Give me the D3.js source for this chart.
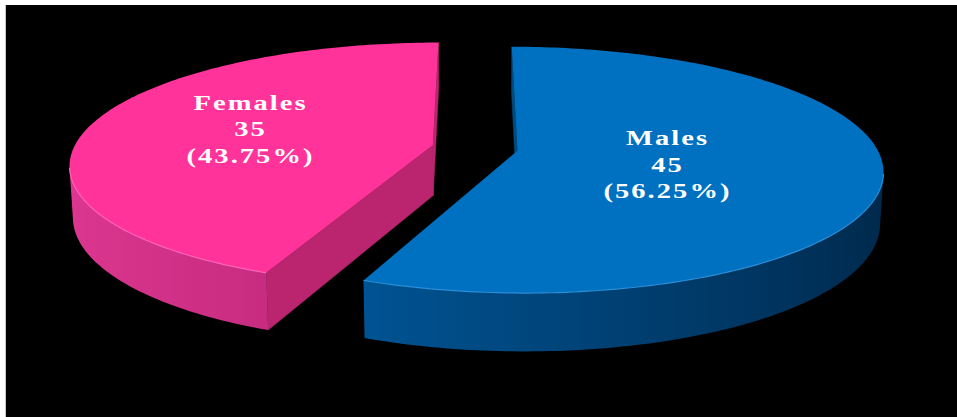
<!DOCTYPE html>
<html>
<head>
<meta charset="utf-8">
<script src="https://cdn.jsdelivr.net/npm/d3@7"></script>
<style>
  body { margin: 0; background: #fff; }
  svg { display: block; }
</style>
</head>
<body>
<svg width="957" height="417"></svg>
<script>
// chart data
const categories = ["Males", "Females"];
const values = [45, 35];
const topColors = ["#0070c0", "#ff3399"];
const wallDark = ["#00284a", "#96145a"];
const wallLight = ["#0066b3", "#de3791"];
const cutColors = ["#004a80", "#bb2570"];
const rimColors = ["#2a8fd8", "#ff64b8"];

function main() {
    var svg = d3.select("svg");
    var W = +svg.attr("width"), H = +svg.attr("height");
    var defs = svg.append("defs");

    // page frame
    svg.append("rect").attr("width", W).attr("height", H).attr("fill", "#fff");
    svg.append("rect").attr("x", 6).attr("y", 5)
        .attr("width", W - 6).attr("height", H - 5).attr("fill", "#000");
    svg.append("line").attr("x1", 5.5).attr("x2", 5.5).attr("y1", 5).attr("y2", H)
        .attr("stroke", "#c8c8c8").attr("stroke-width", 1);

    // simple perspective camera looking down on a unit disc
    const cam = { cx: 475, cy: 148, f: 2195, D: 6.11, phi: 19.4 * Math.PI / 180 };
    const sinP = Math.sin(cam.phi), cosP = Math.cos(cam.phi);
    const thick = 0.15;     // disc height
    const explode = 0.12;   // slice offset
    const camPos = [0, cam.D * sinP, -cam.D * cosP];

    function project(X, Y, Z) {
        var d = cam.D + Z * cosP - Y * sinP;
        var up = Z * sinP + Y * cosP;
        return [cam.cx + cam.f * X / d, cam.cy - cam.f * up / d];
    }

    function faces(n, p) {
        return n[0] * (camPos[0] - p[0]) + n[1] * (camPos[1] - p[1]) + n[2] * (camPos[2] - p[2]) > 0;
    }

    var pie = d3.pie().sort(null).value(d => d.value);
    var total = d3.sum(values);
    var arcs = pie(categories.map((c, i) => ({ name: c, value: values[i], i: i })));

    var line = d3.line();
    var pctFmt = d3.format(".2f");

    var g = svg.append("g");

    arcs.forEach(function(a) {
        var i = a.data.i;
        var mid = (a.startAngle + a.endAngle) / 2;
        var ox = explode * Math.sin(mid), oz = explode * Math.cos(mid);
        var steps = Math.max(8, Math.ceil((a.endAngle - a.startAngle) / (Math.PI / 180)));
        var angles = d3.range(steps + 1).map(k => a.startAngle + (a.endAngle - a.startAngle) * k / steps);
        var rim = (t, y) => project(ox + Math.sin(t), y, oz + Math.cos(t));
        var apex = y => project(ox, y, oz);

        var slice = g.append("g").attr("class", "slice");

        // cut faces
        [[a.startAngle, [-Math.cos(a.startAngle), 0, Math.sin(a.startAngle)]],
         [a.endAngle, [Math.cos(a.endAngle), 0, -Math.sin(a.endAngle)]]].forEach(function(c) {
            var t = c[0];
            var p = [ox + 0.5 * Math.sin(t), -thick / 2, oz + 0.5 * Math.cos(t)];
            if (!faces(c[1], p)) return;
            var pts = [apex(0), rim(t, 0), rim(t, -thick), apex(-thick)];
            slice.append("path").attr("d", line(pts) + "Z")
                .attr("fill", cutColors[i]).attr("stroke", cutColors[i]).attr("stroke-width", 0.5);
        });

        // outer wall: keep the part that faces the camera
        var visible = [];
        for (var k = 0; k < steps; k++) {
            var tm = (angles[k] + angles[k + 1]) / 2;
            var n = [Math.sin(tm), 0, Math.cos(tm)];
            if (faces(n, [ox + n[0], -thick / 2, oz + n[2]])) visible.push(k);
        }
        if (visible.length) {
            var k0 = visible[0], k1 = visible[visible.length - 1] + 1;
            var wallAngles = angles.slice(k0, k1 + 1);
            var topRim = wallAngles.map(t => rim(t, 0));
            var botRim = wallAngles.map(t => rim(t, -thick)).reverse();

            // horizontal shading, lighter where the wall turns to the left
            var shade = d3.interpolateRgb(wallDark[i], wallLight[i]);
            var xa = topRim[0][0], xb = topRim[topRim.length - 1][0];
            var grad = defs.append("linearGradient").attr("id", "wall" + i)
                .attr("gradientUnits", "userSpaceOnUse")
                .attr("x1", xa).attr("x2", xb).attr("y1", 0).attr("y2", 0);
            wallAngles.forEach(function(t, j) {
                grad.append("stop")
                    .attr("offset", (topRim[j][0] - xa) / (xb - xa))
                    .attr("stop-color", shade((1 - Math.sin(t)) / 2));
            });
            slice.append("path").attr("d", line(topRim.concat(botRim)) + "Z")
                .attr("fill", "url(#wall" + i + ")");
        }

        // top face
        var topPts = [apex(0)].concat(angles.map(t => rim(t, 0)));
        slice.append("path").attr("d", line(topPts) + "Z")
            .attr("fill", topColors[i]);

        // light rim along the front edge
        if (visible.length) {
            slice.append("path").attr("d", line(wallAngles.map(t => rim(t, 0))))
                .attr("fill", "none").attr("stroke", rimColors[i]).attr("stroke-width", 1.2);
        }

        // label near the sector centroid, turned slightly counter to the sweep
        var alpha = a.endAngle - a.startAngle;
        var rc = 1.14 * 4 * Math.sin(alpha / 2) / (3 * alpha);
        var la = mid + 4 * Math.PI / 180;
        var lp = project(ox + rc * Math.sin(la), 0, oz + rc * Math.cos(la));
        var lines = [a.data.name, a.data.value, "(" + pctFmt(a.data.value / total * 100) + "%)"];
        var txt = slice.append("text")
            .attr("transform", "translate(" + lp[0] + "," + lp[1] + ") scale(1.36,1)")
            .attr("text-anchor", "middle")
            .attr("font-family", "'Liberation Serif', 'Times New Roman', serif")
            .attr("font-weight", "bold")
            .attr("font-size", "21px")
            .attr("letter-spacing", "1.5px")
            .attr("fill", "#fff");
        lines.forEach(function(s, j) {
            txt.append("tspan").attr("x", 0).attr("y", (j - 1) * 26.5).attr("dy", "0.35em").text(s);
        });
    });
}
main();
</script>
</body>
</html>
